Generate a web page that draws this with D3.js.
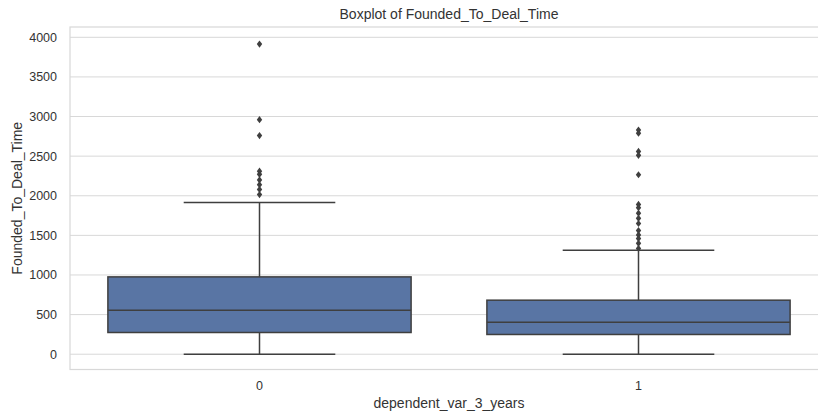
<!DOCTYPE html>
<html>
<head>
<meta charset="utf-8">
<script src="https://cdn.jsdelivr.net/npm/d3@7"></script>
<style>
  body { margin: 0; background: #fff; }
  svg { display: block; font-family: "Liberation Sans", Arial, sans-serif; }
</style>
</head>
<body>
<div id="chart"></div>
<script>
const categories = ["0", "1"];
const q1Values = [274, 249];
const medianValues = [556, 404];
const q3Values = [976, 682];
const whiskerLow = [0, 0];
const whiskerHigh = [1915, 1313];
const outliers0 = [3915, 2960, 2760, 2310, 2270, 2200, 2140, 2080, 2015];
const outliers1 = [2830, 2790, 2560, 2510, 2265, 1890, 1850, 1780, 1715, 1650, 1560, 1505, 1460, 1400, 1335];
const yTicks = [0, 500, 1000, 1500, 2000, 2500, 3000, 3500, 4000];

const width = 818, height = 416;
// plot area runs past the right edge of the picture, as in the original
const margin = { top: 27, left: 70 };
const plotRight = 828, plotBottom = 369.5;

const boxes = categories.map((c, i) => ({
    cat: c,
    q1: q1Values[i],
    med: medianValues[i],
    q3: q3Values[i],
    lo: whiskerLow[i],
    hi: whiskerHigh[i],
    fliers: i === 0 ? outliers0 : outliers1
}));

const svg = d3.select("#chart").append("svg")
    .attr("width", width)
    .attr("height", height);

const x = d3.scaleBand()
    .domain(categories)
    .range([margin.left, plotRight])
    .padding(0);

const y = d3.scaleLinear()
    .domain([-193, 4130])
    .range([plotBottom, margin.top]);

const gridColor = "#d8d8d8";
const lineColor = "#3f3f3f";
const textColor = "#333333";

// horizontal grid
svg.append("g")
    .selectAll("line")
    .data(yTicks)
    .enter().append("line")
    .attr("x1", margin.left)
    .attr("x2", plotRight)
    .attr("y1", d => y(d))
    .attr("y2", d => y(d))
    .attr("stroke", gridColor)
    .attr("stroke-width", 1);

// frame
svg.append("rect")
    .attr("x", margin.left)
    .attr("y", margin.top)
    .attr("width", plotRight - margin.left)
    .attr("height", plotBottom - margin.top)
    .attr("fill", "none")
    .attr("stroke", gridColor)
    .attr("stroke-width", 1.2);

// y axis tick labels
const yAxis = d3.axisLeft(y).tickValues(yTicks).tickFormat(d3.format("d")).tickSize(0).tickPadding(13);
const yg = svg.append("g")
    .attr("transform", `translate(${margin.left},0)`)
    .call(yAxis);
yg.select(".domain").remove();
yg.selectAll("text")
    .style("font-size", "12.5px")
    .style("fill", textColor);

// x axis tick labels
const xAxis = d3.axisBottom(x).tickSize(0).tickPadding(12);
const xg = svg.append("g")
    .attr("transform", `translate(0,${plotBottom})`)
    .call(xAxis);
xg.select(".domain").remove();
xg.selectAll("text")
    .style("font-size", "12.5px")
    .style("fill", textColor);

const boxWidth = x.bandwidth() * 0.8;
const capWidth = boxWidth / 2;

const g = svg.append("g")
    .selectAll("g")
    .data(boxes)
    .enter().append("g")
    .attr("transform", d => `translate(${x(d.cat) + x.bandwidth() / 2},0)`);

// whiskers
g.append("line")
    .attr("x1", 0).attr("x2", 0)
    .attr("y1", d => y(d.q3)).attr("y2", d => y(d.hi))
    .attr("stroke", lineColor).attr("stroke-width", 1.5);
g.append("line")
    .attr("x1", 0).attr("x2", 0)
    .attr("y1", d => y(d.q1)).attr("y2", d => y(d.lo))
    .attr("stroke", lineColor).attr("stroke-width", 1.5);

// caps
g.selectAll("line.cap")
    .data(d => [d.lo, d.hi])
    .enter().append("line")
    .attr("class", "cap")
    .attr("x1", -capWidth / 2).attr("x2", capWidth / 2)
    .attr("y1", d => y(d)).attr("y2", d => y(d))
    .attr("stroke", lineColor).attr("stroke-width", 1.5);

// box
g.append("rect")
    .attr("x", -boxWidth / 2)
    .attr("width", boxWidth)
    .attr("y", d => y(d.q3))
    .attr("height", d => y(d.q1) - y(d.q3))
    .attr("fill", "#5975a4")
    .attr("stroke", lineColor)
    .attr("stroke-width", 1.5);

// median
g.append("line")
    .attr("x1", -boxWidth / 2).attr("x2", boxWidth / 2)
    .attr("y1", d => y(d.med)).attr("y2", d => y(d.med))
    .attr("stroke", lineColor).attr("stroke-width", 1.5);

// outliers as thin diamonds
g.selectAll("path.flier")
    .data(d => d.fliers)
    .enter().append("path")
    .attr("class", "flier")
    .attr("d", d => `M0,${y(d) - 3.6} L2.7,${y(d)} L0,${y(d) + 3.6} L-2.7,${y(d)} Z`)
    .attr("fill", lineColor);

// title and labels
svg.append("text")
    .attr("x", (margin.left + plotRight) / 2)
    .attr("y", 19)
    .attr("text-anchor", "middle")
    .style("font-size", "14px")
    .style("fill", textColor)
    .text("Boxplot of Founded_To_Deal_Time");

svg.append("text")
    .attr("x", (margin.left + plotRight) / 2)
    .attr("y", 408)
    .attr("text-anchor", "middle")
    .style("font-size", "14px")
    .style("fill", textColor)
    .text("dependent_var_3_years");

svg.append("text")
    .attr("transform", `translate(22,${(margin.top + plotBottom) / 2}) rotate(-90)`)
    .attr("text-anchor", "middle")
    .style("font-size", "14px")
    .style("fill", textColor)
    .text("Founded_To_Deal_Time");
</script>
</body>
</html>
